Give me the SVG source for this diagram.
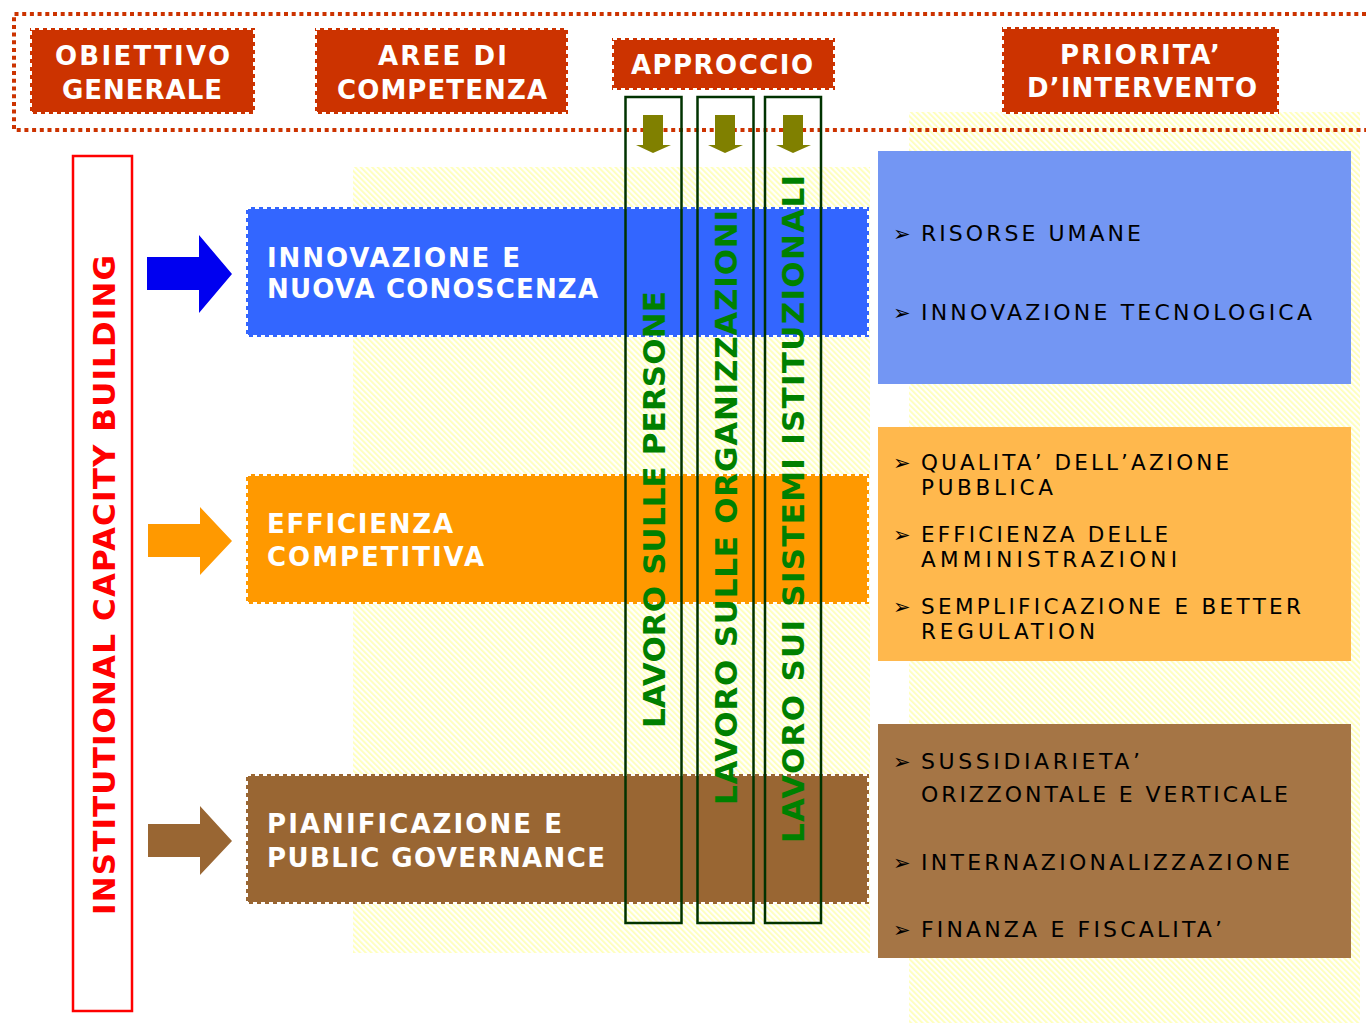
<svg xmlns="http://www.w3.org/2000/svg" width="1366" height="1023" viewBox="0 0 1366 1023">
<defs>
<pattern id="hatch" width="4" height="4" patternUnits="userSpaceOnUse" patternTransform="rotate(-45)">
<rect width="1.8" height="4" fill="#FFFFB8"/>
</pattern>
<style>
.hdr{fill:#CC3300}
.hdrborder{fill:none;stroke:#FFFFFF;stroke-width:2;stroke-dasharray:4 4}
.ht{font-family:"DejaVu Sans",Verdana,sans-serif;font-weight:bold;font-size:26px;fill:#FFFFFF;text-anchor:middle}
.mt{font-family:"DejaVu Sans",Verdana,sans-serif;font-weight:bold;font-size:26px;fill:#FFFFFF}
.vt{font-family:"DejaVu Sans",Verdana,sans-serif;font-weight:bold;font-size:31px;text-anchor:middle}
.col{fill:none;stroke:#003300;stroke-width:2.5}
.olive{fill:#808000}
.rt{font-family:"DejaVu Sans",Verdana,sans-serif;font-size:22px;fill:#000000}
.rt2{font-family:"DejaVu Sans",Verdana,sans-serif;font-size:21.5px;fill:#000000}
.bul{font-family:"DejaVu Sans",sans-serif;font-size:21px;fill:#000000}
.dots{fill:none;stroke:#CC3300;stroke-width:4;stroke-dasharray:4 3.7}
</style>
</defs>
<rect width="1366" height="1023" fill="#FFFFFF"/>
<g id="background">
<rect x="353" y="167" width="517" height="786" fill="url(#hatch)"/>
<rect x="909" y="112" width="451" height="911" fill="url(#hatch)"/>
</g>
<g id="header-frame">
<path class="dots" d="M1366 14 H14 V130 H1366"/>
</g>
<g id="h-obiettivo">
<rect class="hdr" x="30" y="28" width="225" height="86"/>
<rect class="hdrborder" x="31" y="29" width="223" height="84"/>
<text class="ht" x="142.5" y="65" textLength="175" lengthAdjust="spacing">OBIETTIVO</text>
<text class="ht" x="142" y="99" textLength="160" lengthAdjust="spacing">GENERALE</text>
</g>
<g id="h-aree">
<rect class="hdr" x="315" y="28" width="253" height="86"/>
<rect class="hdrborder" x="316" y="29" width="251" height="84"/>
<text class="ht" x="442.5" y="65" textLength="129" lengthAdjust="spacing">AREE DI</text>
<text class="ht" x="442" y="99" textLength="210" lengthAdjust="spacing">COMPETENZA</text>
</g>
<g id="h-approccio">
<rect class="hdr" x="612" y="38" width="223" height="52"/>
<rect class="hdrborder" x="613" y="39" width="221" height="50"/>
<text class="ht" x="722" y="74" textLength="182" lengthAdjust="spacing">APPROCCIO</text>
</g>
<g id="h-priorita">
<rect class="hdr" x="1002" y="27" width="277" height="87"/>
<rect class="hdrborder" x="1003" y="28" width="275" height="85"/>
<text class="ht" x="1140" y="64" textLength="160" lengthAdjust="spacing">PRIORITA’</text>
<text class="ht" x="1142" y="97" textLength="230" lengthAdjust="spacing">D’INTERVENTO</text>
</g>
<g id="obiettivo-generale">
<rect x="73" y="156" width="59" height="855" fill="#FFFFFF" stroke="#FF0000" stroke-width="2.5"/>
<text class="vt" fill="#FF0000" transform="translate(115,585) rotate(-90)" textLength="660" lengthAdjust="spacing">INSTITUTIONAL CAPACITY BUILDING</text>
</g>
<g id="connectors">
<path d="M147 257 H199 V235 L232 274 L199 313 V290 H147 Z" fill="#0000F0"/>
<path d="M148 524 H200 V507 L232 541 L200 575 V557 H148 Z" fill="#FF9900"/>
<path d="M148 824 H200 V806 L232 841 L200 875 V857 H148 Z" fill="#996633"/>
</g>
<g id="area-innovazione">
<rect x="246" y="207" width="623" height="130" fill="#3366FF"/>
<rect class="hdrborder" x="247" y="208" width="621" height="128"/>
<text class="mt" x="267" y="267" textLength="253" lengthAdjust="spacing">INNOVAZIONE E</text>
<text class="mt" x="267" y="298" textLength="331" lengthAdjust="spacing">NUOVA CONOSCENZA</text>
</g>
<g id="area-efficienza">
<rect x="246" y="474" width="623" height="130" fill="#FF9900"/>
<rect class="hdrborder" x="247" y="475" width="621" height="128"/>
<text class="mt" x="267" y="533" textLength="186" lengthAdjust="spacing">EFFICIENZA</text>
<text class="mt" x="267" y="566" textLength="217" lengthAdjust="spacing">COMPETITIVA</text>
</g>
<g id="area-pianificazione">
<rect x="246" y="774" width="623" height="130" fill="#996633"/>
<rect class="hdrborder" x="247" y="775" width="621" height="128"/>
<text class="mt" x="267" y="833" textLength="295" lengthAdjust="spacing">PIANIFICAZIONE E</text>
<text class="mt" x="267" y="867" textLength="338" lengthAdjust="spacing">PUBLIC GOVERNANCE</text>
</g>
<g id="approccio-persone">
<rect class="col" x="625.5" y="97" width="56" height="826"/>
<path class="olive" d="M643 115 H663 V145 H671 L653 153 L636 145 H643 Z"/>
<text class="vt" fill="#008000" transform="translate(665,509.5) rotate(-90)" textLength="437" lengthAdjust="spacing">LAVORO SULLE PERSONE</text>
</g>
<g id="approccio-organizzazioni">
<rect class="col" x="697.5" y="97" width="56" height="826"/>
<path class="olive" d="M715 115 H735 V145 H743 L725 153 L708 145 H715 Z"/>
<text class="vt" fill="#008000" transform="translate(737,507.5) rotate(-90)" textLength="595" lengthAdjust="spacing">LAVORO SULLE ORGANIZZAZIONI</text>
</g>
<g id="approccio-sistemi">
<rect class="col" x="765" y="97" width="56" height="826"/>
<path class="olive" d="M783 115 H803 V145 H811 L793 153 L776 145 H783 Z"/>
<text class="vt" fill="#008000" transform="translate(804,509) rotate(-90)" textLength="668" lengthAdjust="spacing">LAVORO SUI SISTEMI ISTITUZIONALI</text>
</g>
<g id="priorita-innovazione">
<rect x="878" y="151" width="473" height="233" fill="#7396F3"/>
<text class="bul" x="893" y="241">➢</text>
<text class="rt" x="921" y="241" textLength="220" lengthAdjust="spacing">RISORSE UMANE</text>
<text class="bul" x="893" y="320">➢</text>
<text class="rt" x="921" y="320" textLength="391" lengthAdjust="spacing">INNOVAZIONE TECNOLOGICA</text>
</g>
<g id="priorita-efficienza">
<rect x="878" y="427" width="473" height="234" fill="#FFB84D"/>
<text class="bul" x="893" y="470">➢</text>
<text class="rt2" x="921" y="470" textLength="308" lengthAdjust="spacing">QUALITA’ DELL’AZIONE</text>
<text class="rt2" x="921" y="495" textLength="132" lengthAdjust="spacing">PUBBLICA</text>
<text class="bul" x="893" y="542">➢</text>
<text class="rt2" x="921" y="542" textLength="247" lengthAdjust="spacing">EFFICIENZA DELLE</text>
<text class="rt2" x="921" y="567" textLength="256" lengthAdjust="spacing">AMMINISTRAZIONI</text>
<text class="bul" x="893" y="614">➢</text>
<text class="rt2" x="921" y="614" textLength="380" lengthAdjust="spacing">SEMPLIFICAZIONE E BETTER</text>
<text class="rt2" x="921" y="639" textLength="174" lengthAdjust="spacing">REGULATION</text>
</g>
<g id="priorita-pianificazione">
<rect x="878" y="724" width="473" height="234" fill="#A57545"/>
<text class="bul" x="893" y="769">➢</text>
<text class="rt" x="921" y="769" textLength="219" lengthAdjust="spacing">SUSSIDIARIETA’</text>
<text class="rt" x="921" y="802" textLength="367" lengthAdjust="spacing">ORIZZONTALE E VERTICALE</text>
<text class="bul" x="893" y="870">➢</text>
<text class="rt" x="921" y="870" textLength="369" lengthAdjust="spacing">INTERNAZIONALIZZAZIONE</text>
<text class="bul" x="893" y="937">➢</text>
<text class="rt" x="921" y="937" textLength="301" lengthAdjust="spacing">FINANZA E FISCALITA’</text>
</g>
</svg>
